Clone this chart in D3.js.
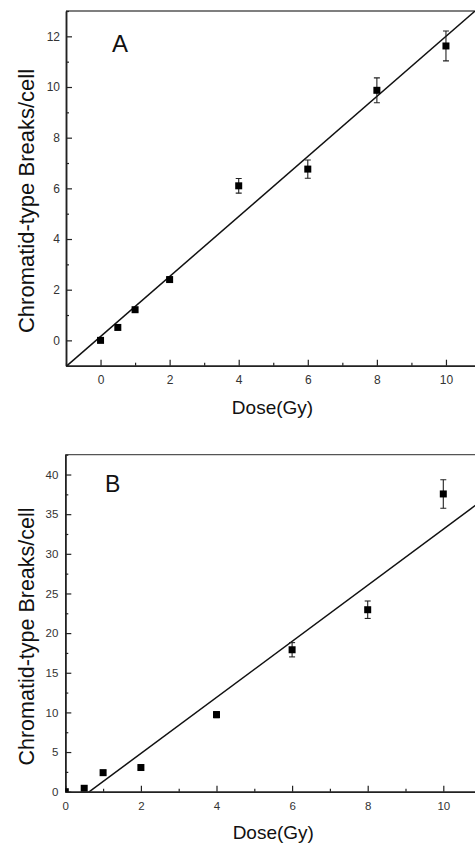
<!DOCTYPE html>
<html><head><meta charset="utf-8">
<script src="https://cdn.jsdelivr.net/npm/d3@7"></script>
<style>body{margin:0;background:#fff;}svg{display:block;}</style>
</head><body>
<svg id="c" width="475" height="845"></svg>
<script>
// Panel A data
const doseA = [0, 0.5, 1, 2, 4, 6, 8, 10];
const breaksA = [0.0, 0.51, 1.21, 2.4, 6.1, 6.76, 9.87, 11.62];
const errA = [0, 0, 0.08, 0.08, 0.29, 0.36, 0.49, 0.59];
const fitA = [0.15, 1.185]; // intercept, slope
const xTicksA = [0, 2, 4, 6, 8, 10];
const yTicksA = [0, 2, 4, 6, 8, 10, 12];

// Panel B data
const doseB = [0, 0.5, 1, 2, 4, 6, 8, 10];
const breaksB = [0.0, 0.43, 2.4, 3.05, 9.72, 17.9, 22.95, 37.55];
const errB = [0, 0, 0.3, 0.2, 0.4, 0.9, 1.1, 1.8];
const fitB = [-2.245, 3.535];
const xTicksB = [0, 2, 4, 6, 8, 10];
const yTicksB = [0, 5, 10, 15, 20, 25, 30, 35, 40];

const svg = d3.select("#c");
const FONT = "Liberation Sans, Arial, sans-serif";

function panel(o) {
  const g = svg.append("g");
  const x = d3.scaleLinear().domain(o.xDom).range([o.left, o.right]);
  const y = d3.scaleLinear().domain(o.yDom).range([o.bottom, o.top]);
  const id = "clip" + o.name;
  svg.append("clipPath").attr("id", id).append("rect")
    .attr("x", o.left).attr("y", o.top)
    .attr("width", o.right - o.left).attr("height", o.bottom - o.top);

  // frame top
  g.append("line").attr("x1", o.left).attr("x2", o.right)
    .attr("y1", o.top).attr("y2", o.top)
    .attr("stroke", "#555").attr("stroke-width", 1.3);

  // x axis
  const xMinor = d3.range(o.xDom[0], o.xDom[1] + 0.001, 1).filter(v => !o.xTicks.includes(v));
  const xa = g.append("g").attr("transform", `translate(0,${o.bottom})`);
  xa.call(d3.axisBottom(x).tickValues(o.xTicks).tickSizeInner(-6).tickSizeOuter(0).tickPadding(10).tickFormat(d3.format("d")));
  xa.append("g").call(d3.axisBottom(x).tickValues(xMinor).tickSizeInner(-3).tickSizeOuter(0).tickFormat(""));
  xa.selectAll(".domain").attr("stroke", "#222").attr("stroke-width", 1.5);
  xa.selectAll(".tick line").attr("stroke", "#222").attr("stroke-width", 1.2);
  xa.selectAll(".tick text").attr("font-family", FONT).attr("font-size", o.tickFont).attr("fill", "#333");

  // y axis
  const step = o.yTicks[1] - o.yTicks[0];
  const yMinor = d3.range(o.yDom[0], o.yDom[1] + 0.001, step / 2).filter(v => !o.yTicks.includes(v));
  const ya = g.append("g").attr("transform", `translate(${o.left},0)`);
  ya.call(d3.axisLeft(y).tickValues(o.yTicks).tickSizeInner(-6).tickSizeOuter(0).tickPadding(o.yPad).tickFormat(d3.format("d")));
  ya.append("g").call(d3.axisLeft(y).tickValues(yMinor).tickSizeInner(-3).tickSizeOuter(0).tickFormat(""));
  ya.selectAll(".domain").attr("stroke", "#222").attr("stroke-width", 1.5);
  ya.selectAll(".tick line").attr("stroke", "#222").attr("stroke-width", 1.2);
  ya.selectAll(".tick text").attr("font-family", FONT).attr("font-size", o.tickFont).attr("fill", "#333");

  const plot = g.append("g").attr("clip-path", `url(#${id})`);
  // fit line
  const lx = [o.xDom[0], o.xDom[1]];
  plot.append("line")
    .attr("x1", x(lx[0])).attr("y1", y(o.fit[0] + o.fit[1] * lx[0]))
    .attr("x2", x(lx[1])).attr("y2", y(o.fit[0] + o.fit[1] * lx[1]))
    .attr("stroke", "#111").attr("stroke-width", 1.5);

  const data = o.dose.map((d, i) => ({ d, v: o.vals[i], e: o.err[i] }));
  // error bars
  const eb = plot.selectAll(".eb").data(data.filter(p => p.e > 0)).enter().append("g")
    .attr("stroke", "#222").attr("stroke-width", 1.1);
  eb.append("line").attr("x1", p => x(p.d)).attr("x2", p => x(p.d))
    .attr("y1", p => y(p.v - p.e)).attr("y2", p => y(p.v + p.e));
  eb.append("line").attr("x1", p => x(p.d) - 3).attr("x2", p => x(p.d) + 3)
    .attr("y1", p => y(p.v - p.e)).attr("y2", p => y(p.v - p.e));
  eb.append("line").attr("x1", p => x(p.d) - 3).attr("x2", p => x(p.d) + 3)
    .attr("y1", p => y(p.v + p.e)).attr("y2", p => y(p.v + p.e));
  // markers
  const s = 7;
  plot.selectAll(".pt").data(data).enter().append("rect")
    .attr("x", p => x(p.d) - s / 2).attr("y", p => y(p.v) - s / 2)
    .attr("width", s).attr("height", s).attr("fill", "#000");

  // panel letter
  g.append("text").attr("x", o.letterX).attr("y", o.letterY)
    .attr("font-family", FONT).attr("font-size", o.letterFont).attr("fill", "#111").text(o.name);
  // axis titles
  g.append("text").attr("x", o.xTitleX).attr("y", o.xTitleY).attr("text-anchor", "middle")
    .attr("font-family", FONT).attr("font-size", 19).attr("fill", "#111").text("Dose(Gy)");
  g.append("text").attr("transform", `translate(${o.yTitleX},${o.yTitleY}) rotate(-90)`)
    .attr("text-anchor", "middle")
    .attr("font-family", FONT).attr("font-size", o.yTitleFont).attr("fill", "#111")
    .text("Chromatid-type Breaks/cell");
}

panel({
  name: "A", dose: doseA, vals: breaksA, err: errA, fit: fitA,
  xDom: [-1, 11], yDom: [-1, 13], xTicks: xTicksA, yTicks: yTicksA,
  left: 66, right: 480.5, top: 11, bottom: 365.7, tickFont: 12, yPad: 6,
  letterX: 112, letterY: 52, letterFont: 24,
  xTitleX: 272.5, xTitleY: 414, yTitleX: 34, yTitleY: 201, yTitleFont: 22
});
panel({
  name: "B", dose: doseB, vals: breaksB, err: errB, fit: fitB,
  xDom: [0, 11], yDom: [0, 42.5], xTicks: xTicksB, yTicks: yTicksB,
  left: 65.3, right: 481.1, top: 454.7, bottom: 791.7, tickFont: 11.5, yPad: 7,
  letterX: 105, letterY: 492, letterFont: 23,
  xTitleX: 273.3, xTitleY: 839, yTitleX: 34, yTitleY: 636.5, yTitleFont: 21.5
});
</script>
</body></html>
